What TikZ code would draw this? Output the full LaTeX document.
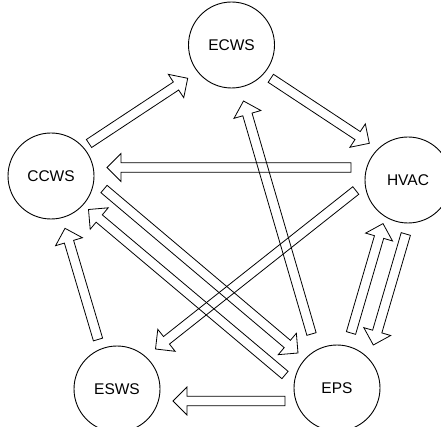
\documentclass[tikz,border=0pt]{standalone}
\usepackage{fontspec}
\setmainfont{Liberation Sans}
\usetikzlibrary{calc}

\tikzset{
  unit/.style={circle, draw, line width=0.9pt, minimum size=86pt, inner sep=0pt,
               font=\fontsize{15.5}{18}\selectfont},
  flowarrow/.style={draw, line width=0.8pt, line join=miter},
}

% block arrow outline from a tail point (#1) to a tip point (#2)
\newcommand\shafthalf{4.8pt}
\newcommand\headhalf{14pt}
\newcommand\headlen{14pt}
\newcommand\blockarrow[2]{%
  \coordinate (hb) at ($(#2)!\headlen!(#1)$);
  \draw[flowarrow]
    ($(#1)!\shafthalf!90:(#2)$) -- ($(hb)!\shafthalf!90:(#2)$) --
    ($(hb)!\headhalf!90:(#2)$) -- (#2) -- ($(hb)!\headhalf!-90:(#2)$) --
    ($(hb)!\shafthalf!-90:(#2)$) -- ($(#1)!\shafthalf!-90:(#2)$) -- cycle;}

\begin{document}
\begin{tikzpicture}[x=1pt, y=-1pt]
  \useasboundingbox (0,0) rectangle (441,427);
  \clip (0,0) rectangle (441,427);

  % systems
  \node[unit] (ecws) at (231.5,45) {ECWS};
  \node[unit] (ccws) at (51,176)   {CCWS};
  \node[unit] (hvac) at (408,180)  {HVAC};
  \node[unit] (esws) at (117,389)  {ESWS};
  \node[unit] (eps)  at (337,388)  {EPS};

  % arrow end points
  \coordinate (ccws-ecws-t) at (89,143.5);   \coordinate (ccws-ecws-h) at (187.7,78.3);
  \coordinate (ecws-hvac-t) at (270.8,78.3); \coordinate (ecws-hvac-h) at (369.3,143.3);
  \coordinate (hvac-ccws-t) at (351,167.5);  \coordinate (hvac-ccws-h) at (107,167.5);
  \coordinate (hvac-esws-t) at (355.8,190.5);\coordinate (hvac-esws-h) at (155.5,349);
  \coordinate (eps-ecws-t)  at (311.5,334);  \coordinate (eps-ecws-h)  at (243.5,101);
  \coordinate (ccws-eps-t)  at (104,189);    \coordinate (ccws-eps-h)  at (298,353);
  \coordinate (eps-ccws-t)  at (285,375);    \coordinate (eps-ccws-h)  at (88.5,209.5);
  \coordinate (eps-hvac-t)  at (351,333);    \coordinate (eps-hvac-h)  at (383,223.6);
  \coordinate (hvac-eps-t)  at (405.8,234);  \coordinate (hvac-eps-h)  at (373.3,345);
  \coordinate (eps-esws-t)  at (285,401);    \coordinate (eps-esws-h)  at (173,401);
  \coordinate (esws-ccws-t) at (98,339.5);   \coordinate (esws-ccws-h) at (65,228.3);

  % dependencies
  \blockarrow{ccws-ecws-t}{ccws-ecws-h}
  \blockarrow{ecws-hvac-t}{ecws-hvac-h}
  \blockarrow{hvac-ccws-t}{hvac-ccws-h}
  \blockarrow{hvac-esws-t}{hvac-esws-h}
  \blockarrow{eps-ecws-t}{eps-ecws-h}
  \blockarrow{ccws-eps-t}{ccws-eps-h}
  \blockarrow{eps-ccws-t}{eps-ccws-h}
  \blockarrow{eps-hvac-t}{eps-hvac-h}
  \blockarrow{hvac-eps-t}{hvac-eps-h}
  \blockarrow{eps-esws-t}{eps-esws-h}
  \blockarrow{esws-ccws-t}{esws-ccws-h}
\end{tikzpicture}
\end{document}
